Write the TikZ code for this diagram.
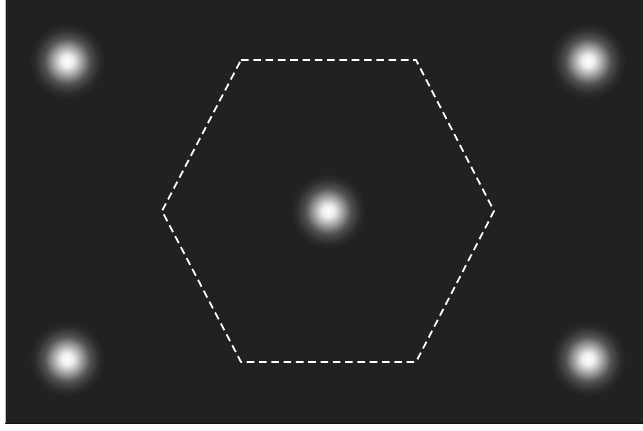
\documentclass[tikz,border=0pt]{standalone}
\usepackage{tikz}
\usetikzlibrary{calc}
\definecolor{panelbg}{HTML}{212121}
\definecolor{panelrim}{HTML}{BDBDBD}
\definecolor{paneldark}{HTML}{111111}

\pgfdeclareradialshading{glow}{\pgfpoint{0bp}{0bp}}{%
  color(0bp)=(white);
  color(4bp)=(white!92!panelbg);
  color(9bp)=(white!60!panelbg);
  color(15bp)=(white!22!panelbg);
  color(21bp)=(white!5!panelbg);
  color(25bp)=(panelbg);
  color(50bp)=(panelbg)}

\begin{document}
\begin{tikzpicture}[
  x=0.03cm, y=-0.03cm,
  spot/.style={shading=glow},
  hexline/.style={draw=white, line width=1.5pt, dash pattern=on 6.5pt off 4pt, line join=round},
]
\useasboundingbox (0,0) rectangle (643,431);
% panel
\fill[white] (0,0) rectangle (643,431);
\fill[panelbg] (5,0) rectangle (643,424);
\draw[panelrim, line width=0.6pt] (5,0) -- (5,424);
\draw[paneldark, line width=1pt] (5,423.5) -- (643,423.5);

% spots
\foreach \name/\px/\py in {tl/67/61, tr/588/61, c/328/211, bl/67/359, br/588/359}
  \shade[spot] (\px,\py) circle (38);

% hexagon
\coordinate (h1) at (241,60);
\coordinate (h2) at (416,60);
\coordinate (h3) at (494,211);
\coordinate (h4) at (416,362);
\coordinate (h5) at (241,362);
\coordinate (h6) at (162,211);
\draw[hexline] (h1) -- (h2) -- (h3) -- (h4) -- (h5) -- (h6) -- cycle;
\end{tikzpicture}
\end{document}
